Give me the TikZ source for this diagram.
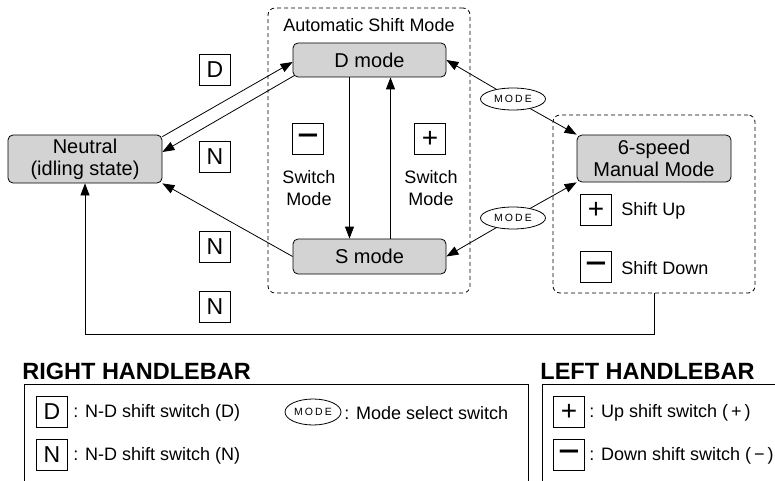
\documentclass[tikz,border=0pt]{standalone}
\usepackage{fontspec}
\setmainfont{Liberation Sans}
\newfontfamily\modefont[LetterSpace=20]{Liberation Sans}
\usetikzlibrary{arrows.meta,shapes.geometric}
\definecolor{boxgray}{RGB}{211,211,211}
\newcommand{\minusbar}{{\fontsize{27}{27}\selectfont\bfseries\raisebox{-3pt}{\scalebox{1.35}[1]{−}}}}

\begin{document}
\begin{tikzpicture}[x = 1pt, y = -1pt, line width = 0.8pt,
                      every node/.style = {inner sep = 0pt},
                      state/.style = {rectangle, rounded corners = 5pt, draw, fill = boxgray, align = center,
                                      font = \fontsize{20}{22}\selectfont},
                      group/.style = {rectangle, rounded corners = 7pt, draw, dash pattern = on 4pt off 3pt},
                      key/.style = {rectangle, draw, minimum size = 31pt, font = \fontsize{23}{23}\selectfont},
                      pluskey/.style = {key, font = \fontsize{28}{28}\selectfont},
                      modekey/.style = {ellipse, draw, minimum width = 65pt, minimum height = 22pt,
                                        font = \fontsize{10.5}{10.5}\selectfont\modefont},
                      note/.style = {align = center, font = \fontsize{18}{22}\selectfont},
                      legend/.style = {anchor = west, font = \fontsize{18}{20}\selectfont},
                      heading/.style = {anchor = west, font = \fontsize{23.5}{24}\selectfont\bfseries},
                      flow/.style = {-{Triangle[length = 12pt, width = 9pt]}}]
    \useasboundingbox (0, 0) rectangle (775, 481);

    \node [group, minimum width = 202pt, minimum height = 285pt] (autobox) at (369, 150.5){};
    \node [note] (autotitle) at (369, 25){Automatic Shift Mode};
    \node [state, minimum width = 153pt, minimum height = 34pt] (dmode) at (369.5, 60){D mode};
    \node [state, minimum width = 153pt, minimum height = 35pt] (smode) at (369.5, 256.5){S mode};
    \node [state, minimum width = 154pt, minimum height = 48pt] (neutral) at (85, 159){Neutral\\(idling state)};
    \node [group, minimum width = 202pt, minimum height = 178pt] (manbox) at (654, 204){};
    \node [state, minimum width = 154pt, minimum height = 47pt] (manual) at (654, 158.5){6-speed\\Manual Mode};

    \node [key] (downkey) at (308, 139){\minusbar};
    \node [note] (downnote) at (309, 188){Switch\\Mode};
    \node [pluskey] (upkey) at (430, 139){+};
    \node [note] (upnote) at (431, 188){Switch\\Mode};
    \node [modekey] (topmode) at (513, 99){MODE};
    \node [modekey] (lowmode) at (513, 218){MODE};
    \node [pluskey] (shiftup) at (596, 210){+};
    \node [note, anchor = west] (shiftuptext) at (621, 211){Shift Up};
    \node [key] (shiftdown) at (596, 267){\minusbar};
    \node [note, anchor = west] (shiftdowntext) at (621, 268){Shift Down};
    \node [key] (dkey) at (215, 70){D};
    \node [key] (nkeya) at (215, 157){N};
    \node [key] (nkeyb) at (215, 247){N};
    \node [key] (nkeyc) at (215, 307){N};

    \draw [flow] ([yshift = -2pt]neutral.north east) -- ([yshift = -2pt]dmode.west);
    \draw [flow] ([xshift = 2pt, yshift = 2pt]dmode.south west) -- ([yshift = 7pt]neutral.east);
    \draw [flow] (smode.west) -- (neutral.south east);
    \draw [flow] ([xshift = -20pt]dmode.south) -- ([xshift = -20pt]smode.north);
    \draw [flow] ([xshift = 21pt]smode.north) -- ([xshift = 21pt]dmode.south);
    \draw [flow] (topmode) -- (dmode.east);
    \draw [flow] (topmode) -- (manual.north west);
    \draw [flow] (lowmode) -- (smode.east);
    \draw [flow] (lowmode) -- (manual.south west);
    \draw [flow] (manbox.south) -- ++(0, 41) -| (neutral.south);

    \node [heading] (righthead) at (22, 371){RIGHT HANDLEBAR};
    \draw (24, 481) -- (24, 384) -- (528, 384) -- (528, 481);
    \node [key] (dlegend) at (52, 412){D};
    \node [legend] (dtext) at (73, 413){: N-D shift switch (D)};
    \node [key] (nlegend) at (52, 455){N};
    \node [legend] (ntext) at (73, 456){: N-D shift switch (N)};
    \node [modekey, minimum width = 56pt, minimum height = 26pt] (modelegend) at (313, 412){MODE};
    \node [legend] (modetext) at (344, 413){: Mode select switch};

    \node [heading] (lefthead) at (540, 371){LEFT HANDLEBAR};
    \draw (542, 481) -- (542, 384) -- (775, 384);
    \node [pluskey] (uplegend) at (569, 412){+};
    \node [legend] (uptext) at (589, 413){: Up shift switch (\,+\,)};
    \node [key] (downlegend) at (569, 455){\minusbar};
    \node [legend] (downtext) at (589, 456){: Down shift switch (\,−\,)};
\end{tikzpicture}
\end{document}
